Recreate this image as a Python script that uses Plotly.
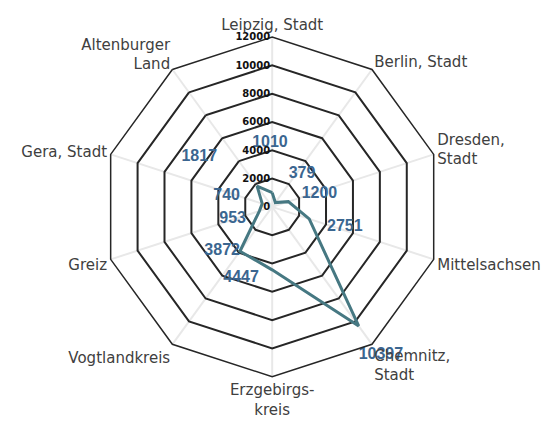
import plotly.graph_objects as go

# Kreise / Städte, im Uhrzeigersinn ab oben
categories = [
    "Leipzig, Stadt", "Berlin, Stadt", "Dresden,<br>Stadt", "Mittelsachsen",
    "Chemnitz,<br>Stadt", "Erzgebirgs-<br>kreis", "Vogtlandkreis", "Greiz",
    "Gera, Stadt", "Altenburger<br>Land",
]
values = [1010, 379, 1200, 2751, 10397, 4447, 3872, 953, 740, 1817]
radial_ticks = [0, 2000, 4000, 6000, 8000, 10000, 12000]

# where each data label sits relative to its point (like the Excel original)
label_pos = [
    "top center", "top right", "top right", "bottom right", "bottom right",
    "bottom left", "middle left", "bottom left", "top left", "top left",
]
pad_before = [0, 3, 3, 4, 0, 0, 0, 0, 0, 0]   # nbsp in front
pad_after = [1, 0, 0, 0, 0, 3, 0, 3, 5, 9]    # nbsp behind
lines_below = [2, 1, 0, 0, 0, 0, 0, 0, 0, 1]  # empty lines under the label
lines_above = [0, 0, 0, 0, 1, 0, 0, 0, 0, 0]  # empty lines over the label

NB = "\u00a0"
labels = []
for v, pb, pa, lb, la in zip(values, pad_before, pad_after, lines_below, lines_above):
    t = NB * pb + str(v) + NB * pa
    t = (NB + "<br>") * la + t + ("<br>" + NB) * lb
    labels.append(t)

fig = go.Figure()

fig.add_trace(go.Scatterpolar(
    r=values + values[:1],
    theta=categories + categories[:1],
    mode="lines+text",
    text=labels + [""],
    textposition=label_pos + ["top center"],
    textfont=dict(family="Liberation Sans, Arial", size=16, color="#3b6690", weight="bold"),
    line=dict(color="#467882", width=3),
    cliponaxis=False,
    hoverinfo="r+theta",
))

fig.update_layout(
    width=555,
    height=425,
    margin=dict(l=0, r=0, t=0, b=0),
    paper_bgcolor="white",
    showlegend=False,
    font=dict(family="DejaVu Sans", color="#404040", size=14),
    polar=dict(
        domain=dict(x=[0.170, 0.782], y=[0.132, 0.932]),
        gridshape="linear",
        bgcolor="white",
        radialaxis=dict(
            range=[0, 12000],
            tickvals=radial_ticks,
            tickformat="d",
            angle=90,
            tickangle=90,
            side="counterclockwise",
            showline=False,
            ticks="",
            gridcolor="#262626",
            gridwidth=1.5,
            tickfont=dict(size=10, color="#111111", family="DejaVu Sans", weight="bold"),
        ),
        angularaxis=dict(
            direction="clockwise",
            rotation=90,
            showline=True,
            linecolor="#262626",
            linewidth=1.5,
            gridcolor="#e8e8e8",
            gridwidth=2,
            ticks="",
            tickfont=dict(size=15, color="#404040", family="DejaVu Sans"),
        ),
    ),
)

fig.write_html("out.html")
